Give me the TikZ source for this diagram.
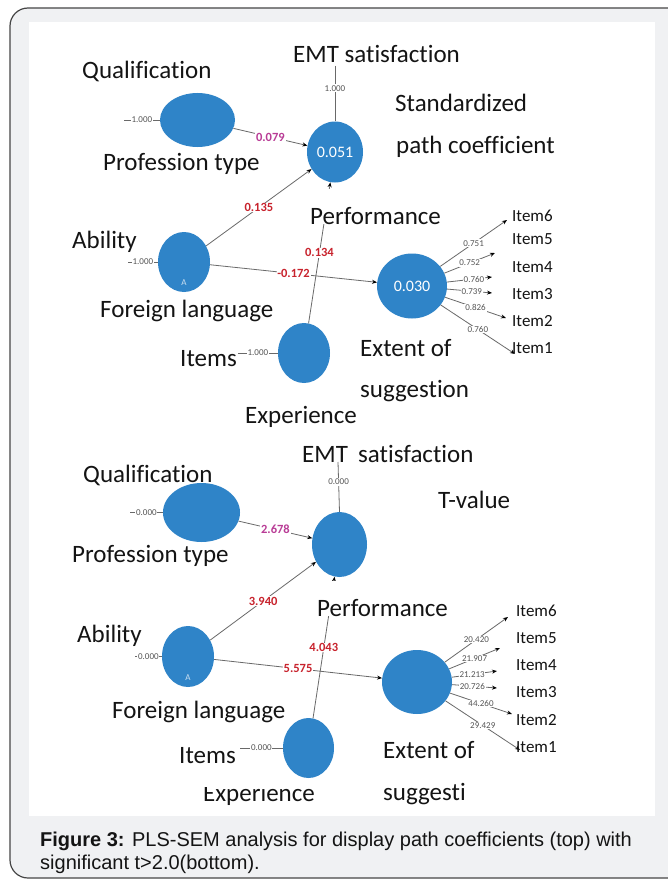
\documentclass[tikz,border=0pt]{standalone}
\usepackage{fontspec}
\setmainfont{Carlito}[Ligatures=NoCommon]
\newfontfamily\capfont{Liberation Sans}
\usetikzlibrary{shapes.geometric,arrows.meta}

\definecolor{lvblue}{RGB}{47,132,200}
\definecolor{pathred}{RGB}{200,35,45}
\definecolor{pathpink}{RGB}{185,60,150}
\definecolor{linegray}{RGB}{105,105,105}
\definecolor{numgray}{RGB}{85,85,85}
\definecolor{framebg}{RGB}{240,241,243}
\definecolor{frameline}{RGB}{70,70,70}
\definecolor{inktext}{RGB}{20,20,20}

\tikzset{
  lv/.style={ellipse, fill=lvblue, draw=none, inner sep=0pt, text=white,
    font=\fontsize{16}{16}\selectfont},
  lvmark/.style={inner sep=0pt, text=white!75!lvblue, font=\fontsize{9}{9}\selectfont},
  title/.style={anchor=base west, inner sep=0pt, text=inktext,
    font=\fontsize{25}{25}\selectfont},
  cover/.style={title, fill=white, text height=35pt, text depth=0pt},
  itemlbl/.style={anchor=base west, inner sep=0pt, text=inktext,
    font=\fontsize{17}{17}\selectfont},
  link/.style={draw=linegray, line width=0.8pt},
  arr/.style={link, -{Stealth[length=5pt,width=4pt,color=black]}},
  wt/.style={fill=white, inner sep=0.8pt, text=numgray,
    font=\fontsize{9}{9}\selectfont},
  coef/.style={fill=white, inner sep=0.8pt, text=pathred,
    font=\bfseries\fontsize{12.5}{12.5}\selectfont},
  coefpink/.style={coef, text=pathpink},
  caption/.style={anchor=base west, inner sep=0pt, text=inktext,
    font=\capfont\fontsize{20}{20}\selectfont}
}

\begin{document}
\begin{tikzpicture}[x=1pt,y=-1pt]
\useasboundingbox (0,0) rectangle (668,880);
\clip (0,0) rectangle (668,880);

% page frame and white panel
\fill[white] (0,0) rectangle (668,880);
\draw[fill=framebg, draw=frameline, line width=1.2pt, rounded corners=18pt]
  (10,8) rectangle (700,878);
\fill[white] (29,22) rectangle (655,816);

% ---------------- standardized path coefficients ----------------
\node[lv, minimum width=75pt, minimum height=54pt] (q1) at (197.5,120) {};
\node[lv, minimum width=56pt, minimum height=61pt] (s1) at (335,152) {0.051};
\node[lv, minimum width=52pt, minimum height=60pt] (f1) at (184,262) {};
\node[lvmark] (f1a) at (184,283) {A};
\node[lv, minimum width=52pt, minimum height=60pt] (x1) at (304,353) {};
\node[lv, minimum width=70pt, minimum height=65pt] (e1) at (412,286) {0.030};

\coordinate (q1s) at (124,120);
\coordinate (f1s) at (128,262);
\coordinate (x1s) at (238,353);
\coordinate (s1t) at (335,66);

\draw[link] (q1s) -- (q1.west) node[wt, midway] {1.000};
\draw[link] (f1s) -- (f1.west) node[wt, midway] {1.000};
\draw[link] (x1s) -- (x1.west) node[wt, midway] {1.000};
\draw[link] (s1t) -- (s1.north) node[wt, pos=0.4] {1.000};

\draw[arr] (q1) -- (s1) node[coefpink, midway] {0.079};
\draw[arr] (f1) -- (s1) node[coef, midway] {0.135};
\draw[arr] (f1) -- (e1) node[coef, midway] {-0.172};
\draw[arr] (x1) -- (s1) node[coef, midway] {0.134};

\coordinate (t16) at (507,220);
\coordinate (t15) at (495,253);
\coordinate (t14) at (492,277);
\coordinate (t13) at (492,293);
\coordinate (t12) at (506,318);
\coordinate (t11) at (515,354);
\draw[arr] (e1) -- (t16) node[wt, midway] {0.751};
\draw[arr] (e1) -- (t15) node[wt, midway] {0.752};
\draw[arr] (e1) -- (t14) node[wt, pos=0.6] {0.760};
\draw[arr] (e1) -- (t13) node[wt, pos=0.55] {0.739};
\draw[arr] (e1) -- (t12) node[wt, midway] {0.826};
\draw[arr] (e1) -- (t11) node[wt, midway] {0.760};

\node[title] (n1emt) at (293,63) {EMT satisfaction};
\node[title] (n1qual) at (82,79) {Qualification};
\node[title] (n1std) at (395,112) {Standardized};
\node[title] (n1path) at (396,153) {path coefficient};
\node[title] (n1prof) at (103,170) {Profession type};
\node[cover] (n1perf) at (310,224) {Performance};
\node[title] (n1abil) at (72,248) {Ability};
\node[title] (n1fl) at (100,317) {Foreign language};
\node[title] (n1items) at (180,366) {Items};
\node[title] (n1ext) at (360,356) {Extent of};
\node[title] (n1sug) at (360,397) {suggestion};
\node[title] (n1exp) at (245,423) {Experience};

\node[itemlbl] (n1i6) at (512,221) {Item6};
\node[itemlbl] (n1i5) at (512,244) {Item5};
\node[itemlbl] (n1i4) at (512,272) {Item4};
\node[itemlbl] (n1i3) at (512,299) {Item3};
\node[itemlbl] (n1i2) at (512,326) {Item2};
\node[itemlbl] (n1i1) at (512,353) {Item1};

% ---------------- t-values ----------------
\node[lv, minimum width=77pt, minimum height=59pt] (q2) at (201.5,512.5) {};
\node[lv, minimum width=55pt, minimum height=65pt] (s2) at (339.5,544.5) {};
\node[lv, minimum width=52pt, minimum height=61pt] (f2) at (188,656.5) {};
\node[lvmark] (f2a) at (188,678) {A};
\node[lv, minimum width=51pt, minimum height=60pt] (x2) at (308.5,748) {};
\node[lv, minimum width=70pt, minimum height=64pt] (e2) at (417,682) {};

\coordinate (q2s) at (130,512.5);
\coordinate (f2s) at (135,656.5);
\coordinate (x2s) at (240,748);
\coordinate (s2t) at (338,462);

\draw[link] (q2s) -- (q2.west) node[wt, midway] {0.000};
\draw[link] (f2s) -- (f2.west) node[wt, midway] {0.000};
\draw[link] (x2s) -- (x2.west) node[wt, midway] {0.000};
\draw[link] (s2t) -- (s2.north) node[wt, pos=0.4] {0.000};

\draw[arr] (q2) -- (s2) node[coefpink, midway] {2.678};
\draw[arr] (f2) -- (s2) node[coef, midway] {3.940};
\draw[arr] (f2) -- (e2) node[coef, midway] {5.575};
\draw[arr] (x2) -- (s2) node[coef, midway] {4.043};

\coordinate (t26) at (508,617);
\coordinate (t25) at (500,648);
\coordinate (t24) at (497,671);
\coordinate (t23) at (497,688);
\coordinate (t22) at (512,714);
\coordinate (t21) at (520,750);
\draw[arr] (e2) -- (t26) node[wt, midway] {20.420};
\draw[arr] (e2) -- (t25) node[wt, midway] {21.907};
\draw[arr] (e2) -- (t24) node[wt, pos=0.45] {21.213};
\draw[arr] (e2) -- (t23) node[wt, pos=0.45] {20.726};
\draw[arr] (e2) -- (t22) node[wt, midway] {44.260};
\draw[arr] (e2) -- (t21) node[wt, midway] {29.429};

\node[title] (n2emt) at (302,462) {EMT};
\node[title] (n2sat) at (358,462) {satisfaction};
\node[title] (n2tv) at (438,508) {T-value};
\node[title] (n2qual) at (83,482) {Qualification};
\node[title] (n2prof) at (72,562) {Profession type};
\node[cover] (n2perf) at (317,616) {Performance};
\node[title] (n2abil) at (77,642) {Ability};
\node[title] (n2fl) at (112,718) {Foreign language};
\node[title] (n2items) at (179,763) {Items};
\node[title] (n2ext) at (383,758) {Extent of};
\node[title] (n2sug) at (383,800) {suggesti};
\begin{scope}
  \clip (150,787.5) rectangle (420,815);
  \node[title] (n2exp) at (203,801) {Experience};
\end{scope}

\node[itemlbl] (n2i6) at (516,616) {Item6};
\node[itemlbl] (n2i5) at (516,643) {Item5};
\node[itemlbl] (n2i4) at (516,670) {Item4};
\node[itemlbl] (n2i3) at (516,697) {Item3};
\node[itemlbl] (n2i2) at (516,725) {Item2};
\node[itemlbl] (n2i1) at (516,752) {Item1};

% ---------------- caption ----------------
\node[caption] (cap1) at (40,846)
  {\textbf{Figure 3:} PLS-SEM analysis for display path coefficients (top) with};
\node[caption] (cap2) at (40,869) {significant t>2.0(bottom).};

\end{tikzpicture}
\end{document}
